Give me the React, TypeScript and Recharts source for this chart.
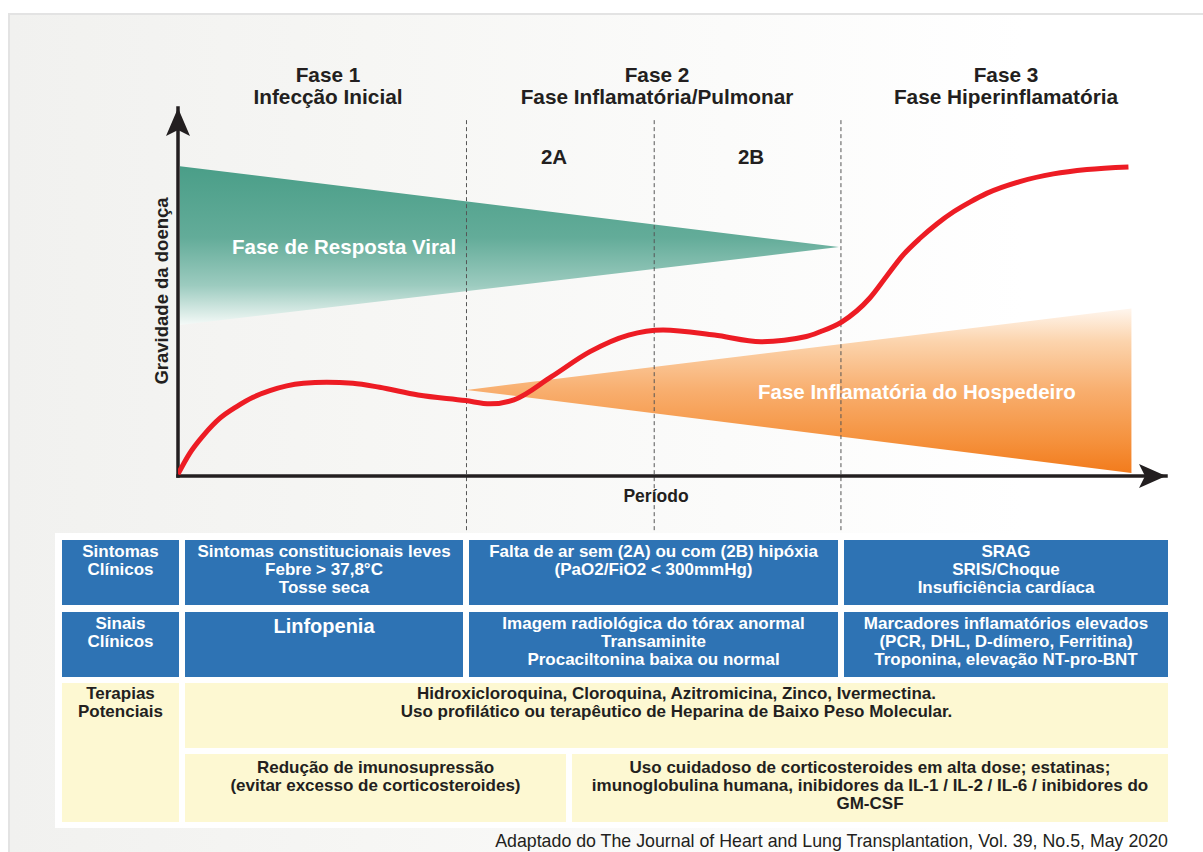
import React from 'react';
import { ComposedChart, Area, Line, XAxis, YAxis, ReferenceLine, ReferenceDot } from 'recharts';

const FONT = '"Liberation Sans", Arial, Helvetica, sans-serif';
const INK = '#231f20';

// ---- chart data (x = período 0..100, y = gravidade 0..100) ----
const phaseBoundaries = [29.2, 48.2, 67.1];
const phaseTitles = ['Fase 1', 'Fase 2', 'Fase 3'];
const phaseSubtitles = ['Infecção Inicial', 'Fase Inflamatória/Pulmonar', 'Fase Hiperinflamatória'];
const subPhaseLabels = ['2A', '2B'];

const severityX = [0, 1.2, 2.6, 4.25, 5.9, 7.6, 9.3, 11.0, 12.7, 15.05, 17.7, 20.4, 24.3, 29.1, 31.6, 34.0, 37.8, 41.7, 45.6, 49.1, 54.3, 59.0, 63.6, 65.0, 67.2, 70.0, 71.7, 73.4, 75.1, 76.8, 78.5, 80.2, 81.85, 85.2, 88.6, 92.0, 96.2];
const severityY = [0.5, 6.2, 11.1, 15.7, 18.8, 21.4, 23.2, 24.5, 25.2, 25.5, 25.2, 24.1, 22.0, 20.5, 19.6, 20.7, 27.0, 33.8, 38.3, 39.7, 38.3, 36.5, 37.9, 39.2, 41.9, 48.3, 54.2, 60.1, 64.6, 68.5, 71.8, 74.5, 76.8, 80.0, 82.1, 83.3, 84.0];

const viralX = [0.2, 66.9];
const viralLow = [41.0, 62.2];
const viralHigh = [84.2, 62.2];

const hostX = [29.2, 96.5];
const hostLow = [23.4, 0.8];
const hostHigh = [23.4, 45.5];

// ---- table texts ----
const rowHeaders = ['Sintomas\nClínicos', 'Sinais\nClínicos', 'Terapias\nPotenciais'];
const clinicalSymptoms = [
  'Sintomas constitucionais leves\nFebre > 37,8°C\nTosse seca',
  'Falta de ar sem (2A) ou com (2B) hipóxia\n(PaO2/FiO2 < 300mmHg)',
  'SRAG\nSRIS/Choque\nInsuficiência cardíaca',
];
const clinicalSigns = [
  'Linfopenia',
  'Imagem radiológica do tórax anormal\nTransaminite\nProcaciltonina baixa ou normal',
  'Marcadores inflamatórios elevados\n(PCR, DHL, D-dímero, Ferritina)\nTroponina, elevação NT-pro-BNT',
];
const therapies = [
  'Hidroxicloroquina, Cloroquina, Azitromicina, Zinco, Ivermectina.\nUso profilático ou terapêutico de Heparina de Baixo Peso Molecular.',
  'Redução de imunosupressão\n(evitar excesso de corticosteroides)',
  'Uso cuidadoso de corticosteroides em alta dose; estatinas;\nimunoglobulina humana, inibidores da IL-1 / IL-2 / IL-6 / inibidores do\nGM-CSF',
];
const sourceNote = 'Adaptado do The Journal of Heart and Lung Transplantation, Vol. 39, No.5, May 2020';

const severityData = severityX.map((x, i) => ({ x, v: severityY[i] }));
const viralData = viralX.map((x, i) => ({ x, r: [viralLow[i], viralHigh[i]] }));
const hostData = hostX.map((x, i) => ({ x, r: [hostLow[i], hostHigh[i]] }));

const BLUE = '#2e73b4';
const YELLOW = '#fdf8d2';

const XArrow = (p: any) => (
  <polygon points={`${p.cx},${p.cy} ${p.cx - 27},${p.cy - 12} ${p.cx - 21},${p.cy} ${p.cx - 27},${p.cy + 12}`} fill={INK} />
);
const YArrow = (p: any) => (
  <polygon points={`${p.cx},${p.cy} ${p.cx - 12},${p.cy + 28} ${p.cx},${p.cy + 22} ${p.cx + 12},${p.cy + 28}`} fill={INK} />
);

const Cell = ({ x, y, w, h, bg, color, text, pad = 3, size = 17, lh = 18 }: any) => (
  <div
    style={{
      position: 'absolute', left: x, top: y, width: w, height: h, background: bg, color,
      fontFamily: FONT, fontWeight: 700, fontSize: size, lineHeight: `${lh}px`, textAlign: 'center',
      paddingTop: pad, boxSizing: 'border-box', whiteSpace: 'pre-line',
    }}
  >
    {text}
  </div>
);

const Txt = ({ x, y, w, text, size, weight = 700, color = INK, lh, align = 'center', extra = {} }: any) => (
  <div
    style={{
      position: 'absolute', left: x, top: y, width: w, fontFamily: FONT, fontWeight: weight, fontSize: size,
      lineHeight: `${lh}px`, color, textAlign: align, whiteSpace: 'pre', ...extra,
    }}
  >
    {text}
  </div>
);

export default function App() {
  const headerCenters = [328, 657, 1006];
  return (
    <div style={{ position: 'absolute', left: 0, top: 0, width: 1203, height: 852, background: '#fff', overflow: 'hidden' }}>
      <div
        style={{
          position: 'absolute', left: 8, top: 13, width: 1195, height: 839, boxSizing: 'border-box',
          borderTop: '2px solid #e3e3e3', borderLeft: '2px solid #e3e3e3',
          background: 'linear-gradient(to right, #f1f1ef 0%, #f6f6f4 30%, #fbfbfa 60%, #ffffff 85%)',
        }}
      />
      <div style={{ position: 'absolute', left: 0, top: 0 }}>
        <ComposedChart width={1203} height={545} margin={{ top: 108, left: 178, right: 37, bottom: 69 }}>
          <defs>
            <linearGradient id="viralGrad" x1="0" y1="0" x2="0" y2="1">
              <stop offset="0%" stopColor="#4a9e88" />
              <stop offset="45%" stopColor="#63ac99" />
              <stop offset="75%" stopColor="#9ccbbf" />
              <stop offset="100%" stopColor="#f5faf8" />
            </linearGradient>
            <linearGradient id="hostGrad" x1="0" y1="0" x2="0" y2="1">
              <stop offset="0%" stopColor="#fff6ee" />
              <stop offset="20%" stopColor="#fcd4ad" />
              <stop offset="50%" stopColor="#f8ae6e" />
              <stop offset="80%" stopColor="#f5923e" />
              <stop offset="100%" stopColor="#f27b1c" />
            </linearGradient>
          </defs>
          <XAxis type="number" dataKey="x" domain={[0, 100]} allowDataOverflow hide />
          <YAxis type="number" domain={[0, 100]} allowDataOverflow hide />
          <Area data={viralData} dataKey="r" type="linear" fill="url(#viralGrad)" fillOpacity={1} stroke="none" isAnimationActive={false} />
          <Area data={hostData} dataKey="r" type="linear" fill="url(#hostGrad)" fillOpacity={1} stroke="none" isAnimationActive={false} />
          {phaseBoundaries.map((b) => (
            <ReferenceLine
              key={b}
              segment={[{ x: b, y: 96.7 }, { x: b, y: -15 }]}
              ifOverflow="visible"
              stroke="#555"
              strokeWidth={1}
              strokeDasharray="4 3"
            />
          ))}
          <ReferenceLine y={0} stroke={INK} strokeWidth={3.5} strokeLinecap="square" />
          <ReferenceLine x={0} stroke={INK} strokeWidth={3.5} strokeLinecap="square" />
          <Line data={severityData} dataKey="v" type="monotone" stroke="#ed1c24" strokeWidth={5} dot={false} isAnimationActive={false} />
          <ReferenceDot x={100} y={0} r={1} ifOverflow="visible" shape={XArrow} />
          <ReferenceDot x={0} y={100} r={1} ifOverflow="visible" shape={YArrow} />
        </ComposedChart>
      </div>

      {phaseTitles.map((t, i) => (
        <Txt key={t} x={headerCenters[i] - 200} y={64} w={400} size={20.8} lh={22} text={`${t}\n${phaseSubtitles[i]}`} />
      ))}
      <Txt x={554 - 40} y={146} w={80} size={20.5} lh={22} text={subPhaseLabels[0]} />
      <Txt x={751 - 40} y={146} w={80} size={20.5} lh={22} text={subPhaseLabels[1]} />
      <Txt x={162 - 120} y={291 - 11} w={240} size={18.5} lh={22} text="Gravidade da doença" extra={{ transform: 'rotate(-90deg)', transformOrigin: '50% 50%' }} />
      <Txt x={656 - 60} y={485} w={120} size={17.5} lh={22} text="Período" />
      <Txt x={232} y={235} w={300} size={20.5} lh={24} align="left" color="#fff" text="Fase de Resposta Viral" />
      <Txt x={758} y={380} w={360} size={20.5} lh={24} align="left" color="#fff" text="Fase Inflamatória do Hospedeiro" />

      <div style={{ position: 'absolute', left: 55, top: 533, width: 1120, height: 295, background: '#fff' }} />
      <Cell x={62} y={540} w={117} h={65} bg={BLUE} color="#fff" text={rowHeaders[0]} />
      <Cell x={185} y={540} w={278} h={65} bg={BLUE} color="#fff" text={clinicalSymptoms[0]} />
      <Cell x={469} y={540} w={369} h={65} bg={BLUE} color="#fff" text={clinicalSymptoms[1]} />
      <Cell x={844} y={540} w={324} h={65} bg={BLUE} color="#fff" text={clinicalSymptoms[2]} />
      <Cell x={62} y={612} w={117} h={65} bg={BLUE} color="#fff" text={rowHeaders[1]} />
      <Cell x={185} y={612} w={278} h={65} bg={BLUE} color="#fff" text={clinicalSigns[0]} size={20} lh={22} />
      <Cell x={469} y={612} w={369} h={65} bg={BLUE} color="#fff" text={clinicalSigns[1]} />
      <Cell x={844} y={612} w={324} h={65} bg={BLUE} color="#fff" text={clinicalSigns[2]} />
      <Cell x={62} y={683} w={117} h={139} bg={YELLOW} color={INK} text={rowHeaders[2]} pad={2} />
      <Cell x={185} y={683} w={983} h={65} bg={YELLOW} color={INK} text={therapies[0]} pad={2} />
      <Cell x={185} y={754} w={381} h={68} bg={YELLOW} color={INK} text={therapies[1]} pad={5} />
      <Cell x={572} y={754} w={596} h={68} bg={YELLOW} color={INK} text={therapies[2]} pad={5} />

      <Txt x={368} y={830} w={800} size={17.8} weight={400} lh={22} align="right" color={INK} text={sourceNote} />
    </div>
  );
}
